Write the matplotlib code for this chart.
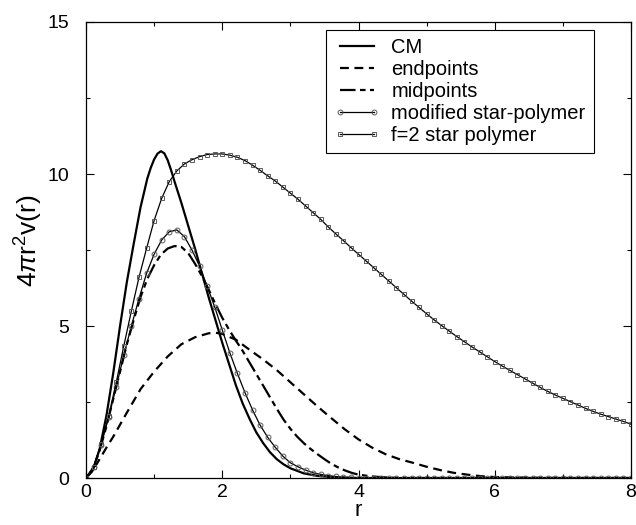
import numpy as np
import matplotlib.pyplot as plt

plt.rcParams['font.family'] = ['Liberation Sans', 'DejaVu Sans']
plt.rcParams['mathtext.fontset'] = 'custom'
plt.rcParams['mathtext.rm'] = 'Liberation Sans'
plt.rcParams['mathtext.it'] = 'Liberation Sans:italic'

# CM (solid)
r_cm = [0.0, 0.1, 0.2, 0.3, 0.4, 0.5, 0.6, 0.7, 0.8, 0.9, 0.95, 1.0, 1.05, 1.1, 1.15,
        1.2, 1.25, 1.3, 1.4,
        1.5, 1.6, 1.7, 1.8, 1.9, 2.0, 2.1, 2.2, 2.3, 2.4, 2.5, 2.6, 2.7, 2.8, 2.9,
        3.0, 3.2, 3.4, 3.6, 3.8, 4.0, 5.0, 6.0, 7.0, 8.0]
v_cm = [0.0, 0.25, 0.95, 2.05, 3.45, 5.0, 6.45, 7.7, 8.9, 9.85, 10.2, 10.48, 10.67, 10.75, 10.68,
        10.45, 10.12, 9.75, 9.05,
        8.3, 7.55, 6.75, 5.95, 5.2, 4.45, 3.75, 3.05, 2.45, 1.95, 1.5, 1.15, 0.85, 0.62, 0.45,
        0.32, 0.15, 0.07, 0.03, 0.01, 0.0, 0.0, 0.0, 0.0, 0.0]

# endpoints (dashed)
r_end = [0.0, 0.1, 0.2, 0.3, 0.4, 0.6, 0.8, 1.0, 1.2, 1.4, 1.6, 1.8, 1.9, 2.0, 2.2,
         2.4, 2.6, 2.8, 3.0, 3.2, 3.4, 3.6, 3.8, 4.0, 4.2, 4.4, 4.6, 4.8, 5.0, 5.2,
         5.4, 5.6, 5.8, 6.0, 6.5, 7.0, 8.0]
v_end = [0.0, 0.25, 0.62, 1.0, 1.36, 2.15, 2.92, 3.5, 4.0, 4.4, 4.63, 4.76, 4.78, 4.74, 4.55,
         4.22, 3.9, 3.55, 3.15, 2.75, 2.35, 1.97, 1.6, 1.27, 1.0, 0.78, 0.62, 0.5, 0.37, 0.26,
         0.17, 0.11, 0.06, 0.03, 0.01, 0.0, 0.0]

# midpoints (dash-dot)
r_mid = [0.0, 0.1, 0.2, 0.3, 0.4, 0.5, 0.6, 0.7, 0.8, 0.9, 1.0, 1.1, 1.2, 1.3, 1.4,
         1.5, 1.6, 1.7, 1.8, 1.9, 2.0, 2.1, 2.2, 2.3, 2.4, 2.5, 2.6, 2.7, 2.8, 2.9,
         3.0, 3.1, 3.2, 3.3, 3.4, 3.5, 3.6, 3.7, 3.8, 3.9, 4.0, 4.2, 4.4, 4.6, 8.0]
v_mid = [0.0, 0.3, 0.9, 1.7, 2.6, 3.5, 4.4, 5.2, 5.95, 6.55, 7.0, 7.35, 7.55, 7.63, 7.6,
         7.4, 7.05, 6.65, 6.2, 5.72, 5.27, 4.88, 4.52, 4.18, 3.8, 3.42, 3.04, 2.66, 2.28, 1.92,
         1.62, 1.36, 1.14, 0.95, 0.78, 0.62, 0.47, 0.35, 0.25, 0.17, 0.11, 0.05, 0.02, 0.0, 0.0]

# modified star-polymer and f=2 star polymer share the grid r = k/9
r_grid = np.linspace(0, 8, 73)
v_mod = [0.0, 0.37, 1.1, 2.0, 3.0, 4.05, 5.0, 5.9, 6.73, 7.36, 7.83, 8.10, 8.16, 7.94, 7.50,
         6.97, 6.31, 5.63, 4.87, 4.12, 3.44, 2.81, 2.24, 1.74, 1.34, 1.01, 0.72, 0.50, 0.37,
         0.26, 0.17, 0.12, 0.08, 0.05, 0.03, 0.02, 0.01,
         0, 0, 0, 0, 0, 0, 0, 0, 0, 0, 0, 0, 0, 0, 0, 0, 0, 0,
         0, 0, 0, 0, 0, 0, 0, 0, 0, 0, 0, 0, 0, 0, 0, 0, 0, 0]
v_f2 = [0.0, 0.37, 1.12, 2.05, 3.15, 4.35, 5.5, 6.6, 7.55, 8.47, 9.2, 9.75, 10.1, 10.33, 10.47,
        10.57, 10.64, 10.66, 10.66, 10.62, 10.55, 10.44, 10.29, 10.12, 9.94, 9.77, 9.57, 9.37,
        9.17, 8.95, 8.73, 8.51, 8.26, 8.03, 7.81, 7.58, 7.36, 7.14, 6.92, 6.70, 6.48, 6.26,
        6.04, 5.82, 5.61, 5.40, 5.20, 5.01, 4.83, 4.65, 4.48, 4.31, 4.15, 3.99, 3.83, 3.68,
        3.54, 3.40, 3.26, 3.12, 2.98, 2.85, 2.73, 2.62, 2.51, 2.40, 2.29, 2.19, 2.10, 2.02,
        1.94, 1.86, 1.77]

fig = plt.figure(figsize=(6.36, 5.25), dpi=100)
ax = fig.add_axes([0.1352, 0.0895, 0.857, 0.8686])

ax.plot(r_cm, v_cm, color='black', lw=1.6, label='CM')
ax.plot(r_end, v_end, color='black', lw=1.6, dashes=(4, 2.5), label='endpoints')
ax.plot(r_mid, v_mid, color='black', lw=1.6, dashes=(7, 2, 2.5, 2), label='midpoints')
ax.plot(r_grid, v_mod, color='black', lw=0.9, marker='o', ms=3.5, mfc='none',
        mec='0.35', mew=0.7, label='modified star-polymer')
ax.plot(r_grid, v_f2, color='black', lw=0.9, marker='s', ms=3.2, mfc='none',
        mec='0.35', mew=0.7, label='f=2 star polymer')

ax.set_xlim(0, 8)
ax.set_ylim(0, 15)
ax.set_xticks([0, 2, 4, 6, 8])
ax.set_xticks([1, 3, 5, 7], minor=True)
ax.set_yticks([0, 5, 10, 15])
ax.set_yticks([2.5, 7.5, 12.5], minor=True)
ax.tick_params(which='both', direction='in', top=True, right=True, labelsize=14, width=0.8)
ax.tick_params(which='major', length=6)
ax.tick_params(which='minor', length=3)
ax.tick_params(axis='y', pad=12)
ax.tick_params(axis='x', pad=4)
for s in ax.spines.values():
    s.set_linewidth(0.9)

ax.set_xlabel('r', fontsize=16)
ax.xaxis.set_label_coords(0.5, -0.049)
ax.set_ylabel(r'4$\pi$r$^2$v(r)', fontsize=19)
ax.yaxis.set_label_coords(-0.075, 0.52)

leg = ax.legend(loc='upper left', bbox_to_anchor=(0.4404, 0.9825), borderaxespad=0,
                fontsize=14.5, numpoints=2, handlelength=2.3, handletextpad=0.55,
                labelspacing=0.15, borderpad=0.4, fancybox=False, framealpha=1,
                edgecolor='black')
leg.get_frame().set_linewidth(0.8)

fig.savefig('out.png', dpi=100)
